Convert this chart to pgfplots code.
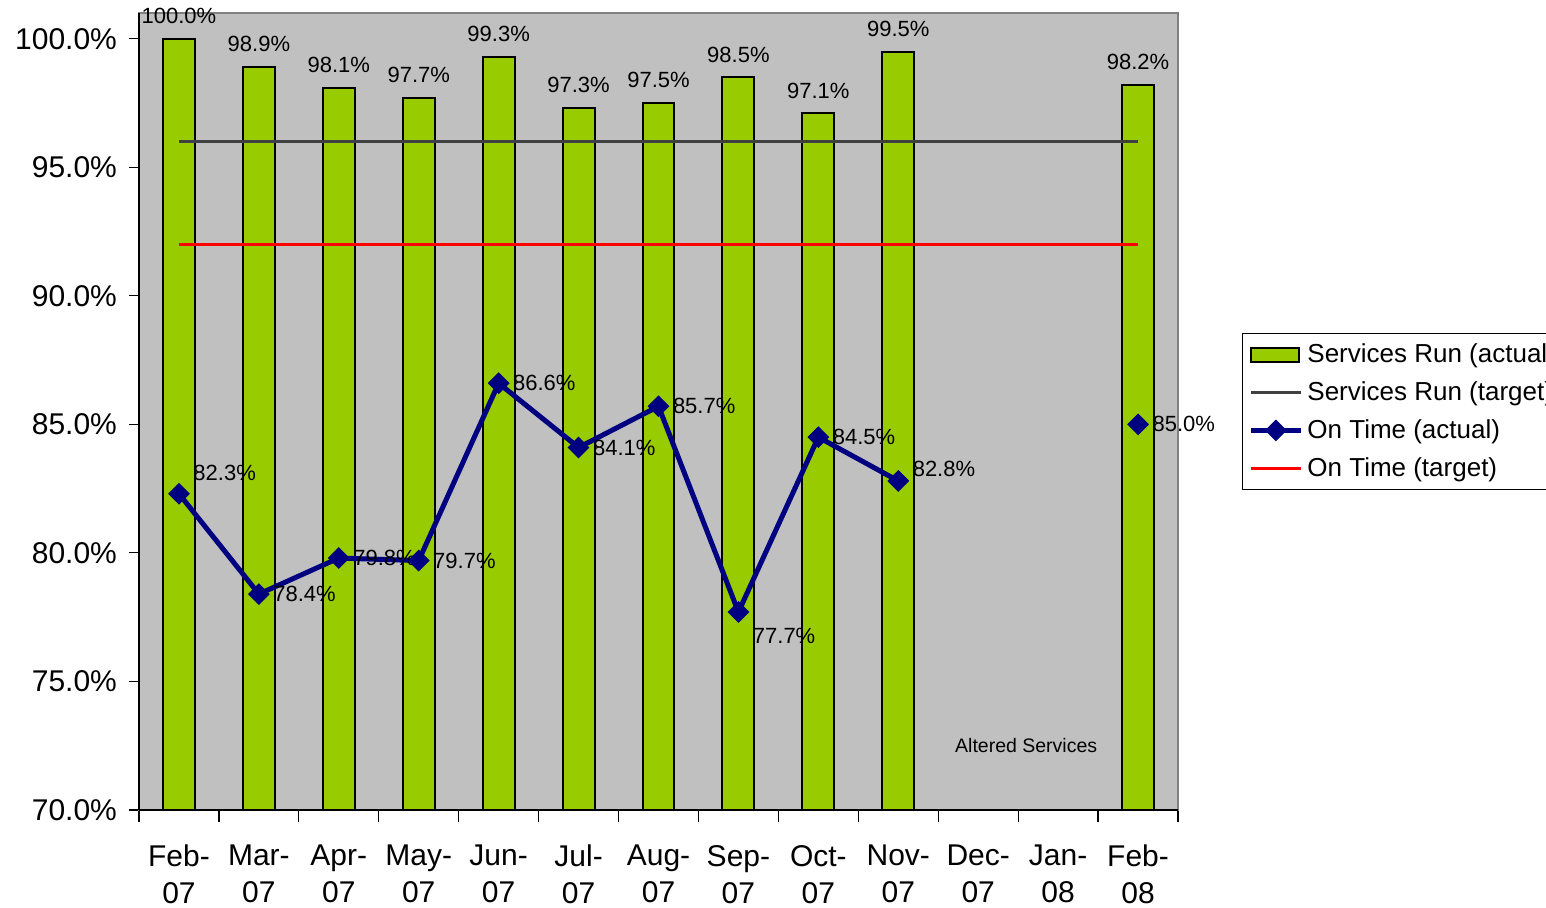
\documentclass[border=0pt]{standalone}
\usepackage{fontspec}
\setmainfont{Liberation Sans}
\usepackage{pgfplots}
\usepackage{pgfplotstable}
\pgfplotsset{compat=1.18}
\definecolor{barg}{RGB}{153,204,0}
\definecolor{bggray}{RGB}{192,192,192}
\definecolor{navyl}{RGB}{0,0,128}
\definecolor{tgray}{RGB}{64,64,64}

\pgfplotsset{
  mylineleg/.style={legend image code/.code={\draw[mark repeat=2,mark phase=2,##1] plot coordinates {(0pt,0pt) (12.5pt,0pt) (25pt,0pt)};}},
  mybarleg/.style={legend image code/.code={\draw[fill=barg, draw=black, line width=0.8pt] (0pt,-3.5pt) rectangle (24pt,3.5pt);}},
}

\pgfplotstableread{
x y
0 100.0
1 98.9
2 98.1
3 97.7
4 99.3
5 97.3
6 97.5
7 98.5
8 97.1
9 99.5
12 98.2
}\servrun

\pgfplotstableread{
x y dy
0 82.3 10.5
1 78.4 0
2 79.8 0
3 79.7 0
4 86.6 0
5 84.1 0
6 85.7 0
7 77.7 -12
8 84.5 0
9 82.8 6
10 nan 0
11 nan 0
12 85.0 0
}\ontime

\pgfplotstableread{
x y
0 96
12 96
}\servtarget

\pgfplotstableread{
x y
0 92
12 92
}\ontarget

\begin{document}
\begin{tikzpicture}
\useasboundingbox (-69.5pt,-49pt) rectangle (703.5pt,405pt);
\begin{axis}[
  at={(0pt,0pt)}, anchor=south west,
  scale only axis, width=519.5pt, height=398.5pt,
  xmin=-0.5, xmax=12.5, ymin=70, ymax=101,
  clip=false,
  /pgf/number format/assume math mode=true,
  axis background/.style={fill=bggray},
  axis line style={draw=gray, line width=1pt},
  tick align=outside,
  xtick pos=bottom, ytick pos=left,
  xtick={0,...,12},
  xticklabels={{Feb-\\07},{Mar-\\07},{Apr-\\07},{May-\\07},{Jun-\\07},{Jul-\\07},{Aug-\\07},{Sep-\\07},{Oct-\\07},{Nov-\\07},{Dec-\\07},{Jan-\\08},{Feb-\\08}},
  xticklabel style={align=center, font=\fontsize{15}{18.5}\selectfont, yshift=-9pt},
  major x tick style={draw=none},
  minor xtick={-0.5,0.5,...,12.5},
  minor x tick style={black, line width=0.6pt},
  minor tick length=6pt,
  ytick={70,75,...,100},
  major tick length=5pt,
  y tick style={black, line width=0.6pt},
  yticklabel={\pgfmathprintnumber[fixed,fixed zerofill,precision=1]{\tick}\%},
  yticklabel style={font=\fontsize{15}{18}\selectfont, xshift=-2.5pt},
  unbounded coords=jump,
  legend style={at={(1,0.5)}, anchor=west, xshift=32pt, draw=black, fill=white,
    font=\fontsize{13}{15}\selectfont, row sep=4pt, inner sep=3pt},
  legend cell align=left,
]
\addplot[ybar, bar width=0.4, fill=barg, draw=black, line width=1pt,
  nodes near coords={\pgfmathprintnumber[fixed,fixed zerofill,precision=1]{\pgfplotspointmeta}\%},
  every node near coord/.append style={font=\fontsize{11}{13}\selectfont, black, anchor=south, inner sep=0pt, yshift=7pt},
  mybarleg
] table[x=x,y=y] {\servrun};
\addlegendentry{Services Run (actual)}

\addplot[tgray, line width=1.5pt, no marks, mylineleg] table[x=x,y=y] {\servtarget};
\addlegendentry{Services Run (target)}

\addplot[navyl, line width=2.5pt, mark=square*, mark size=3.6pt, mark options={solid, rotate=45, line width=0.5pt},
  visualization depends on={\thisrow{dy} \as \dy},
  nodes near coords={\pgfmathprintnumber[fixed,fixed zerofill,precision=1]{\pgfplotspointmeta}\%},
  every node near coord/.append style={font=\fontsize{11}{13}\selectfont, black, anchor=west, inner sep=0pt, xshift=7pt, yshift=\dy pt},
  mylineleg
] table[x=x,y=y] {\ontime};
\addlegendentry{On Time (actual)}

\addplot[red, line width=1.5pt, no marks, mylineleg] table[x=x,y=y] {\ontarget};
\addlegendentry{On Time (target)}

\draw[black, line width=1pt] (rel axis cs:0,0) -- (rel axis cs:0,1);
\draw[black, line width=1pt] (rel axis cs:0,0) -- (rel axis cs:1,0);
\node[font=\fontsize{9.75}{12}\selectfont, black] at (axis cs:10.6,72.5) {Altered Services};
\end{axis}
\end{tikzpicture}
\end{document}
